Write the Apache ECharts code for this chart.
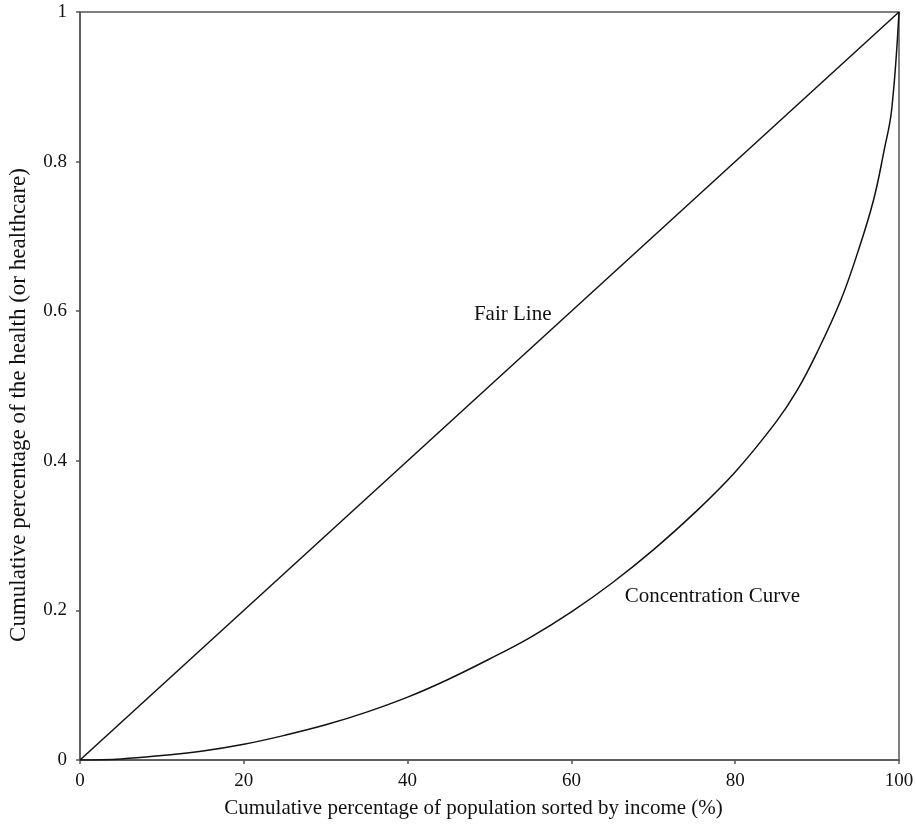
<!DOCTYPE html>
<html>
<head>
<meta charset="utf-8">
<script src="https://cdn.jsdelivr.net/npm/echarts@6/dist/echarts.min.js"></script>
<style>
	html, body { margin: 0; padding: 0; background: #fff; }
	#main { width: 916px; height: 825px; }
</style>
</head>
<body>
<div id="main"></div>
<script>
// 公平线
var fairX = [0, 100];
var fairY = [0, 1];

// 集中曲线
var curveX = [0, 5, 10, 15, 20, 25, 30, 35, 40, 45, 50, 55, 60, 65, 70, 75, 80, 85, 87.5, 90, 92.9, 95, 96.9, 98.2, 99.1, 100];
var curveY = [0, 0.0015, 0.006, 0.012, 0.021, 0.033, 0.047, 0.064, 0.084, 0.108, 0.135, 0.164, 0.198, 0.237, 0.281, 0.33, 0.385, 0.452, 0.493, 0.545, 0.615, 0.68, 0.749, 0.816, 0.869, 1];

var xTicks = [0, 20, 40, 60, 80, 100];
var yTicks = [0, 0.2, 0.4, 0.6, 0.8, 1];

// 文字标注
var notes = [
	{ name: 'Fair Line', x: 48.1, y: 0.596 },
	{ name: 'Concentration Curve', x: 66.5, y: 0.218 }
];

var fontFamily = '"Liberation Serif", "DejaVu Serif", serif';
var axisColor = '#555';
var textColor = '#111';

function pairs(xs, ys) {
	var out = [];
	for (var i = 0; i < xs.length; i++) {
		out.push([xs[i], ys[i]]);
	}
	return out;
}

function notePoint(n) {
	return { name: n.name, coord: [n.x, n.y] };
}

var labelStyle = {
	show: true,
	position: 'right',
	distance: 0,
	formatter: '{b}',
	color: textColor,
	fontSize: 21,
	fontFamily: fontFamily
};

var myChart = echarts.init(document.getElementById('main'));

var option = {
	backgroundColor: '#fff',
	animation: false,
	grid: {
		left: 80,
		right: 17,
		top: 12,
		bottom: 65,
		containLabel: false,
		outerBoundsMode: 'none',
		show: true,
		borderColor: axisColor,
		borderWidth: 1.5,
		backgroundColor: 'transparent'
	},
	xAxis: {
		type: 'value',
		min: xTicks[0],
		max: xTicks[xTicks.length - 1],
		interval: 20,
		name: 'Cumulative percentage of population sorted by income (%)',
		nameLocation: 'middle',
		nameGap: 38,
		nameTextStyle: { color: textColor, fontSize: 21, fontFamily: fontFamily, padding: [0, 32, 0, 0] },
		axisLine: { show: true, lineStyle: { color: axisColor, width: 1.5 } },
		axisTick: { show: true, inside: false, length: 4, lineStyle: { color: axisColor, width: 1.5 } },
		axisLabel: { color: textColor, fontSize: 19, fontFamily: fontFamily, margin: 12 },
		splitLine: { show: false }
	},
	yAxis: {
		type: 'value',
		min: yTicks[0],
		max: yTicks[yTicks.length - 1],
		interval: 0.2,
		name: 'Cumulative percentage of the health (or healthcare)',
		nameLocation: 'middle',
		nameGap: 50,
		nameTextStyle: { color: textColor, fontSize: 23, fontFamily: fontFamily, padding: [0, 38, 0, 0] },
		axisLine: { show: true, lineStyle: { color: axisColor, width: 1.5 } },
		axisTick: { show: true, inside: false, length: 4, lineStyle: { color: axisColor, width: 1.5 } },
		axisLabel: { color: textColor, fontSize: 19, fontFamily: fontFamily, margin: 13 },
		splitLine: { show: false }
	},
	series: [{
		name: 'Fair Line',
		type: 'line',
		data: pairs(fairX, fairY),
		showSymbol: false,
		silent: true,
		lineStyle: { color: textColor, width: 1.5 },
		markPoint: {
			symbolSize: 0,
			silent: true,
			label: labelStyle,
			data: [notePoint(notes[0])]
		}
	}, {
		name: 'Concentration Curve',
		type: 'line',
		data: pairs(curveX, curveY),
		showSymbol: false,
		smooth: 0.4,
		silent: true,
		lineStyle: { color: textColor, width: 1.5 },
		markPoint: {
			symbolSize: 0,
			silent: true,
			label: labelStyle,
			data: [notePoint(notes[1])]
		}
	}]
};

myChart.setOption(option);
</script>
</body>
</html>
